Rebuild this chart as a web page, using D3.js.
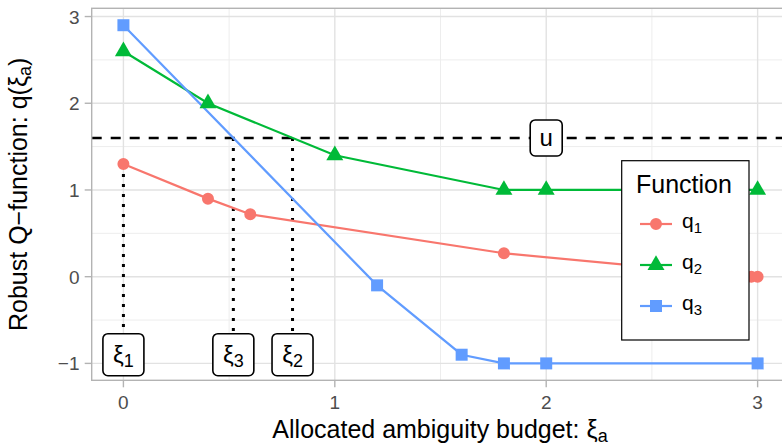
<!DOCTYPE html>
<html>
<head>
<meta charset="utf-8">
<script src="https://cdn.jsdelivr.net/npm/d3@7"></script>
<style>
  html, body { margin: 0; padding: 0; background: #fff; }
  svg { display: block; font-family: "Liberation Sans", Arial, sans-serif; }
</style>
</head>
<body>
<svg id="chart" width="782" height="446"></svg>
<script>
// Allocated ambiguity budget (x) and robust Q-function values per function
const budgetQ1 = [0, 0.4, 0.6, 1.8, 2.97, 3];
const valueQ1  = [1.3, 0.9, 0.72, 0.27, 0, 0];
const budgetQ2 = [0, 0.4, 1.0, 1.8, 2.0, 3];
const valueQ2  = [2.6, 2.0, 1.4, 1.0, 1.0, 1.0];
const budgetQ3 = [0, 1.2, 1.6, 1.8, 2.0, 3];
const valueQ3  = [2.9, -0.1, -0.9, -1.0, -1.0, -1.0];
const seriesNames = ["1", "2", "3"];          // subscripts of q
const seriesColors = ["#F8766D", "#00BA38", "#619CFF"];
const threshold = 1.6;                        // u
const thresholdLabelX = 2;
const xiLabelY = -0.9;
const xTicks = [0, 1, 2, 3];
const yTicks = [-1, 0, 1, 2, 3];
const xMinor = [0.5, 1.5, 2.5];
const yMinor = [-0.5, 0.5, 1.5, 2.5];

const series = [
  { id: 0, x: budgetQ1, y: valueQ1, shape: "circle" },
  { id: 1, x: budgetQ2, y: valueQ2, shape: "triangle" },
  { id: 2, x: budgetQ3, y: valueQ3, shape: "square" }
].map(s => ({ ...s, pts: s.x.map((v, i) => [v, s.y[i]]) }));

// first budget where a series drops to the threshold
function crossing(pts, level) {
  if (pts[0][1] <= level) return pts[0][0];
  for (let i = 1; i < pts.length; i++) {
    const [x0, y0] = pts[i - 1], [x1, y1] = pts[i];
    if (y1 <= level) return x0 + (y0 - level) * (x1 - x0) / (y0 - y1);
  }
  return null;
}
const xiPoints = series.map(s => ({ id: s.id, x: crossing(s.pts, threshold) }));

const svg = d3.select("#chart");
const panel = { left: 91.7, top: 8.3, bottom: 380.3 };
const xDomain = [-0.15, 3.15];
const yDomain = [-1.195, 3.095];
const pxPerX = 211.4;
const x = d3.scaleLinear().domain(xDomain).range([panel.left, panel.left + (xDomain[1] - xDomain[0]) * pxPerX]);
const y = d3.scaleLinear().domain(yDomain).range([panel.bottom, panel.top]);
const [x0, x1] = x.range();

// grid
const grid = svg.append("g");
grid.selectAll(".xm").data(xMinor).join("line")
  .attr("x1", d => x(d)).attr("x2", d => x(d)).attr("y1", panel.top).attr("y2", panel.bottom)
  .attr("stroke", "#EDEDED").attr("stroke-width", 1);
grid.selectAll(".ym").data(yMinor).join("line")
  .attr("x1", x0).attr("x2", x1).attr("y1", d => y(d)).attr("y2", d => y(d))
  .attr("stroke", "#EDEDED").attr("stroke-width", 1);
grid.selectAll(".xM").data(xTicks).join("line")
  .attr("x1", d => x(d)).attr("x2", d => x(d)).attr("y1", panel.top).attr("y2", panel.bottom)
  .attr("stroke", "#E2E2E2").attr("stroke-width", 1.4);
grid.selectAll(".yM").data(yTicks).join("line")
  .attr("x1", x0).attr("x2", x1).attr("y1", d => y(d)).attr("y2", d => y(d))
  .attr("stroke", "#E2E2E2").attr("stroke-width", 1.4);

// threshold u
svg.append("line")
  .attr("x1", x0).attr("x2", x1).attr("y1", y(threshold)).attr("y2", y(threshold))
  .attr("stroke", "#000").attr("stroke-width", 2.6).attr("stroke-dasharray", "10,9");

// dotted drop lines from each crossing
const dropLines = svg.append("g");
xiPoints.forEach(p => {
  const s = series[p.id];
  const topVal = s.pts[0][1] <= threshold ? s.pts[0][1] : threshold;
  dropLines.append("line")
    .attr("x1", x(p.x)).attr("x2", x(p.x))
    .attr("y1", y(topVal)).attr("y2", y(xiLabelY))
    .attr("stroke", "#000").attr("stroke-width", 3).attr("stroke-dasharray", "3,7");
});

// series lines
const line = d3.line().x(d => x(d[0])).y(d => y(d[1]));
svg.append("g").selectAll("path").data(series).join("path")
  .attr("d", d => line(d.pts)).attr("fill", "none")
  .attr("stroke", d => seriesColors[d.id]).attr("stroke-width", 2.2);

// point markers
const symbolFor = shape => shape === "circle" ? d3.symbol(d3.symbolCircle, 113)
  : shape === "triangle" ? d3.symbol(d3.symbolTriangle, 125)
  : d3.symbol(d3.symbolSquare, 144);
series.forEach(s => {
  svg.append("g").selectAll("path").data(s.pts).join("path")
    .attr("transform", d => `translate(${x(d[0])},${y(d[1])})`)
    .attr("d", symbolFor(s.shape)())
    .attr("fill", seriesColors[s.id]);
});

// boxed labels
function boxLabel(cx, cy, w, h, build) {
  const g = svg.append("g").attr("transform", `translate(${cx},${cy})`);
  g.append("rect").attr("x", -w / 2).attr("y", -h / 2).attr("width", w).attr("height", h)
    .attr("rx", 5).attr("fill", "#fff").attr("stroke", "#000").attr("stroke-width", 1.6);
  const t = g.append("text").attr("text-anchor", "middle").attr("fill", "#000");
  build(t);
  return g;
}
xiPoints.forEach(p => {
  boxLabel(x(p.x), y(xiLabelY), 41, 42, t => {
    t.attr("y", 8).attr("font-size", 24);
    t.append("tspan").text("ξ");
    t.append("tspan").attr("font-size", 18).attr("dy", 4).text(seriesNames[p.id]);
  });
});
boxLabel(x(thresholdLabelX), y(threshold), 32, 36, t => {
  t.attr("y", 8).attr("font-size", 24).text("u");
});

// axes ticks and labels
const axisG = svg.append("g");
axisG.selectAll(".xt").data(xTicks).join("line")
  .attr("x1", d => x(d)).attr("x2", d => x(d)).attr("y1", panel.bottom).attr("y2", panel.bottom + 7)
  .attr("stroke", "#B3B3B3").attr("stroke-width", 1.4);
axisG.selectAll(".xl").data(xTicks).join("text")
  .attr("x", d => x(d)).attr("y", 408.5).attr("text-anchor", "middle")
  .attr("font-size", 19).attr("fill", "#4D4D4D").text(d => d);
axisG.selectAll(".yt").data(yTicks).join("line")
  .attr("x1", panel.left - 7).attr("x2", panel.left).attr("y1", d => y(d)).attr("y2", d => y(d))
  .attr("stroke", "#B3B3B3").attr("stroke-width", 1.4);
axisG.selectAll(".yl").data(yTicks).join("text")
  .attr("x", 79.5).attr("y", d => y(d) + 7).attr("text-anchor", "end")
  .attr("font-size", 19).attr("fill", "#4D4D4D").text(d => d < 0 ? "\u2212" + Math.abs(d) : d);

// panel border
svg.append("rect").attr("x", panel.left).attr("y", panel.top)
  .attr("width", x1 - panel.left).attr("height", panel.bottom - panel.top)
  .attr("fill", "none").attr("stroke", "#B3B3B3").attr("stroke-width", 1.4);

// axis titles
const xt = svg.append("text").attr("x", 440).attr("y", 438)
  .attr("text-anchor", "middle").attr("font-size", 25).attr("fill", "#000");
xt.append("tspan").text("Allocated ambiguity budget: ξ");
xt.append("tspan").attr("font-size", 18).attr("dy", 4).text("a");

const yt = svg.append("text").attr("transform", `translate(27,${(panel.top + panel.bottom) / 2}) rotate(-90)`)
  .attr("text-anchor", "middle").attr("font-size", 25).attr("fill", "#000");
yt.append("tspan").text("Robust Q\u2212function: q(ξ");
yt.append("tspan").attr("font-size", 18).attr("dy", 4).text("a");
yt.append("tspan").attr("dy", -4).text(")");

// legend
const lg = svg.append("g");
lg.append("rect").attr("x", 621.7).attr("y", 160.7).attr("width", 127.3).attr("height", 179.3)
  .attr("fill", "#fff").attr("stroke", "#000").attr("stroke-width", 1.2);
lg.append("text").attr("x", 636).attr("y", 192.5).attr("font-size", 25).attr("fill", "#000").text("Function");
series.forEach((s, i) => {
  const cy = 224 + i * 41;
  lg.append("line").attr("x1", 640).attr("x2", 672).attr("y1", cy).attr("y2", cy)
    .attr("stroke", seriesColors[s.id]).attr("stroke-width", 2.2);
  lg.append("path").attr("transform", `translate(656,${cy})`)
    .attr("d", symbolFor(s.shape)()).attr("fill", seriesColors[s.id]);
  const t = lg.append("text").attr("x", 682).attr("y", cy + 4).attr("font-size", 21).attr("fill", "#000");
  t.append("tspan").text("q");
  t.append("tspan").attr("font-size", 15).attr("dy", 5).text(seriesNames[s.id]);
});
</script>
</body>
</html>
